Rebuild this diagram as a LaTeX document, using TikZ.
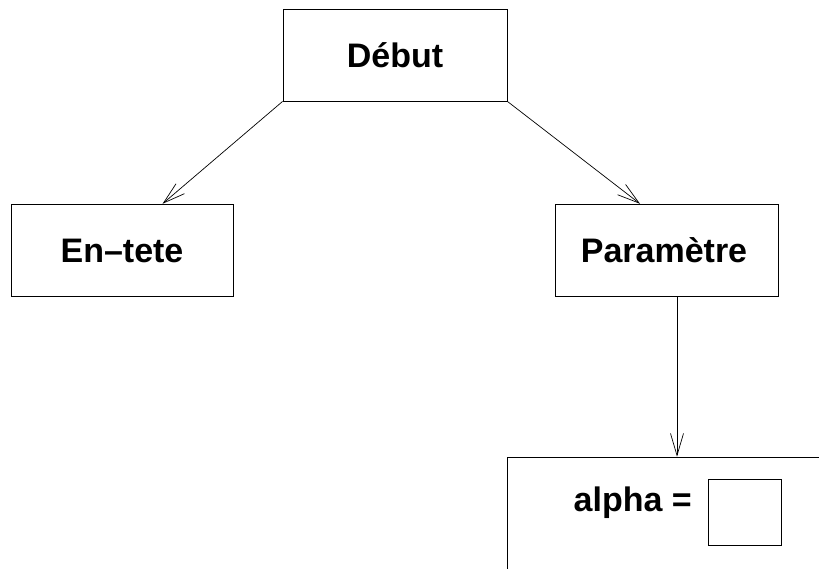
\documentclass[tikz,border=0pt]{standalone}
\usepackage{fontspec}
\setmainfont{Liberation Sans}
\usetikzlibrary{arrows.meta,calc}
\begin{document}
\begin{tikzpicture}[x=1pt,y=-1pt,
  box/.style={draw, line width=0.9pt, inner sep=0pt},
  lbl/.style={font=\fontsize{34}{40}\selectfont\bfseries},
  arr/.style={line width=0.7pt, -{Straight Barb[length=22pt,width=13pt,line width=0.7pt]}}]
\useasboundingbox (0,0) rectangle (819,569);
\clip (0,0) rectangle (819,569);
\node[box, lbl, minimum width=224pt, minimum height=92pt] (debut) at (395,55) {Début};
\node[box, lbl, minimum width=222pt, minimum height=92.5pt] (entete) at (122,250.5) {En\textendash tete};
\node[box, lbl, minimum width=222.6pt, minimum height=92.5pt] (param) at (667,250.5) {\hspace{-6pt}Paramètre};
\node[box, minimum width=360pt, minimum height=160pt, anchor=north west] (abox) at (507,456.7) {};
\node[lbl, inner sep=0pt, anchor=base east] (alpha) at (692,511.7) {alpha =};
\node[box, minimum width=73.4pt, minimum height=66.7pt] (val) at (745,512.3) {};
\draw[arr] (debut.south west) -- ([xshift=152pt]entete.north west);
\draw[arr] (debut.south east) -- ([xshift=-27pt]param.north);
\draw[arr] ([xshift=10pt]param.south) -- ([xshift=10pt]param.south |- abox.north);
\end{tikzpicture}
\end{document}
